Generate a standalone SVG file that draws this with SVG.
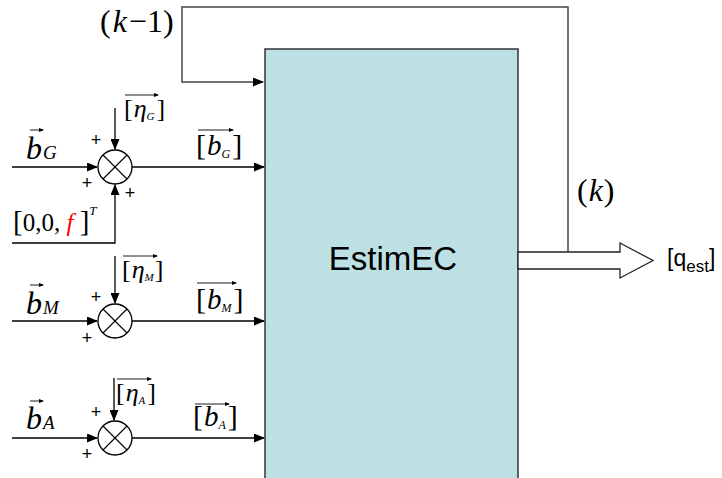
<svg xmlns="http://www.w3.org/2000/svg" width="722" height="478" viewBox="0 0 722 478">
<defs>
<marker id="ah" markerUnits="userSpaceOnUse" markerWidth="11" markerHeight="9" refX="10" refY="4.5" orient="auto">
<path d="M0,0 L11,4.5 L0,9 z" fill="#000"/>
</marker>
<marker id="sa" markerUnits="userSpaceOnUse" markerWidth="5" markerHeight="4" refX="4" refY="2" orient="auto">
<path d="M0,0 L5,2 L0,4 z" fill="#000"/>
</marker>
<style>
.ln{fill:none;stroke:#000;stroke-width:1.3}
.fb{fill:none;stroke:#444;stroke-width:1.5}
.ov{fill:none;stroke:#000;stroke-width:0.9}
.sum{fill:#fff;stroke:#000;stroke-width:1.3}
.x{stroke:#000;stroke-width:1.1}
.m{font-family:"Liberation Serif","Times New Roman",serif;fill:#000}
.i{font-style:italic}
.p{font-family:"Liberation Sans",Arial,sans-serif;font-size:18px;fill:#000;text-anchor:middle}
.s{font-family:"Liberation Sans",Arial,sans-serif;fill:#000}
</style>
</defs>

<g id="estimec">
<rect x="265" y="49" width="253" height="440" fill="#bce0e3" stroke="#333" stroke-width="1.5"/>
<text class="s" x="393" y="270" font-size="33" text-anchor="middle">EstimEC</text>
</g>

<g id="output">
<polygon points="518,252 620,252 620,243 653,260.5 620,278 620,269 518,269" fill="#fff" stroke="#222" stroke-width="1.3"/>
<text class="s" x="667" y="266" font-size="23">[q<tspan font-size="17" dy="6">est</tspan><tspan dy="-6">]</tspan></text>
</g>

<g id="connectors">
<path class="fb" d="M568,252 V7 H182 V82 H263" marker-end="url(#ah)"/>
<path class="ln" d="M12,167 H97" marker-end="url(#ah)"/>
<path class="ln" d="M115,108 V149" marker-end="url(#ah)"/>
<path class="ln" d="M12,243 H115 V185" marker-end="url(#ah)"/>
<path class="ln" d="M132,167 H264" marker-end="url(#ah)"/>
<path class="ln" d="M12,321 H97" marker-end="url(#ah)"/>
<path class="ln" d="M115,256 V303" marker-end="url(#ah)"/>
<path class="ln" d="M132,321 H264" marker-end="url(#ah)"/>
<path class="ln" d="M12,438 H97" marker-end="url(#ah)"/>
<path class="ln" d="M114,378 V420" marker-end="url(#ah)"/>
<path class="ln" d="M132,438 H264" marker-end="url(#ah)"/>
</g>

<g id="sum_G">
<circle class="sum" cx="115" cy="167" r="17"/>
<line class="x" x1="103" y1="155" x2="127" y2="179"/>
<line class="x" x1="127" y1="155" x2="103" y2="179"/>
<text class="p" x="96" y="146">+</text>
<text class="p" x="87" y="189">+</text>
<text class="p" x="130" y="199">+</text>
</g>

<g id="sum_M">
<circle class="sum" cx="115" cy="321" r="17"/>
<line class="x" x1="103" y1="309" x2="127" y2="333"/>
<line class="x" x1="127" y1="309" x2="103" y2="333"/>
<text class="p" x="96" y="303">+</text>
<text class="p" x="87" y="344">+</text>
</g>

<g id="sum_A">
<circle class="sum" cx="115" cy="438" r="17"/>
<line class="x" x1="103" y1="426" x2="127" y2="450"/>
<line class="x" x1="127" y1="426" x2="103" y2="450"/>
<text class="p" x="96" y="418">+</text>
<text class="p" x="87" y="460">+</text>
</g>

<g id="labels">
<text class="m" x="100" y="32" font-size="32">(<tspan class="i" dx="2">k</tspan><tspan dx="2">−1</tspan>)</text>
<text class="m" x="577" y="201" font-size="32">(<tspan class="i" dx="1">k</tspan><tspan dx="1">)</tspan></text>

<path class="ov" d="M30,130 H43" marker-end="url(#sa)"/>
<text class="m i" x="26" y="159" font-size="32">b<tspan font-size="19" dx="1">G</tspan></text>
<path class="ov" d="M30,285 H43" marker-end="url(#sa)"/>
<text class="m i" x="26" y="314" font-size="32">b<tspan font-size="19" dx="1">M</tspan></text>
<path class="ov" d="M30,401 H43" marker-end="url(#sa)"/>
<text class="m i" x="26" y="429" font-size="32">b<tspan font-size="19" dx="1">A</tspan></text>

<text class="m" x="13" y="231" font-size="25"><tspan font-size="29">[</tspan>0,0, <tspan class="i" fill="#ff0000">f</tspan> <tspan font-size="29">]</tspan><tspan class="i" font-size="13" dy="-16">T</tspan></text>

<path class="ov" d="M125,95 H158" marker-end="url(#sa)"/>
<text class="m" x="124" y="117" font-size="26">[<tspan class="i" dx="1">η</tspan><tspan class="i" font-size="11" dy="3">G</tspan><tspan dy="-3" dx="2">]</tspan></text>
<path class="ov" d="M123,256 H157" marker-end="url(#sa)"/>
<text class="m" x="122" y="278" font-size="26">[<tspan class="i" dx="1">η</tspan><tspan class="i" font-size="11" dy="3">M</tspan><tspan dy="-3" dx="1">]</tspan></text>
<path class="ov" d="M117,379 H151" marker-end="url(#sa)"/>
<text class="m" x="116" y="401" font-size="26">[<tspan class="i" dx="1">η</tspan><tspan class="i" font-size="11" dy="3">A</tspan><tspan dy="-3" dx="2">]</tspan></text>

<path class="ov" d="M198,130 H233" marker-end="url(#sa)"/>
<text class="m" x="196" y="155" font-size="30">[<tspan class="i" dx="1" font-size="29">b</tspan><tspan class="i" font-size="12" dy="3">G</tspan><tspan dy="-3" dx="2">]</tspan></text>
<path class="ov" d="M197,283 H236" marker-end="url(#sa)"/>
<text class="m" x="196" y="309" font-size="30">[<tspan class="i" dx="1" font-size="29">b</tspan><tspan class="i" font-size="12" dy="3">M</tspan><tspan dy="-3" dx="2">]</tspan></text>
<path class="ov" d="M195,404 H229" marker-end="url(#sa)"/>
<text class="m" x="193" y="426" font-size="30">[<tspan class="i" dx="1" font-size="29">b</tspan><tspan class="i" font-size="12" dy="3">A</tspan><tspan dy="-3" dx="2">]</tspan></text>
</g>
</svg>
